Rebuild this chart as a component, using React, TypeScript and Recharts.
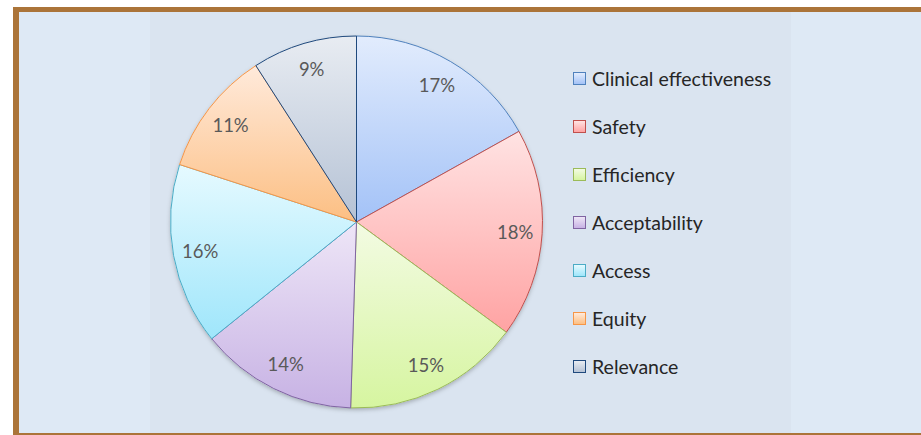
import React from "react";
import { PieChart, Pie, Cell, Legend } from "recharts";

// ---------------------------------------------------------------------------
// Data
// ---------------------------------------------------------------------------
const categories = [
  "Clinical effectiveness",
  "Safety",
  "Efficiency",
  "Acceptability",
  "Access",
  "Equity",
  "Relevance",
];
// slice sizes (%), and the printed labels
const shares = [16.9, 18.2, 15.4, 13.7, 15.8, 10.9, 9.1];
const labels = ["17%", "18%", "15%", "14%", "16%", "11%", "9%"];

// gradient top / bottom, and outline per slice
const gradTop = ["#e2ecfd", "#ffe3e3", "#f3fbe3", "#eee6f7", "#e6faff", "#ffeadb", "#e8ecf2"];
const gradBottom = ["#a3c2f7", "#ffa3a3", "#d6f5a0", "#c7b2e4", "#9fe6fb", "#fcbf83", "#b5c2d5"];
const outline = ["#4f81bd", "#c0504d", "#9bbb59", "#8064a2", "#4bacc6", "#f79646", "#1f497d"];

const pieData = categories.map((name, i) => ({ name, value: shares[i], label: labels[i] }));

const RADIAN = Math.PI / 180;
const LABEL_FONT = "Lato, 'Open Sans', sans-serif";

// ---------------------------------------------------------------------------
// Slice labels
// ---------------------------------------------------------------------------
function SliceLabel(props: any) {
  const { cx, cy, midAngle, outerRadius, index } = props;
  const r = outerRadius - 27;
  const x = cx + r * Math.cos(-midAngle * RADIAN);
  const y = cy + r * Math.sin(-midAngle * RADIAN);
  return (
    <text
      x={x}
      y={y}
      fill="#595959"
      fontSize={18.5}
      fontFamily={LABEL_FONT}
      textAnchor="middle"
      dominantBaseline="central"
    >
      {labels[index]}
    </text>
  );
}

// ---------------------------------------------------------------------------
// Legend
// ---------------------------------------------------------------------------
function LegendBox() {
  return (
    <div style={{ position: "relative", width: 240, height: 340 }}>
      {categories.map((name, i) => (
        <div
          key={name}
          style={{
            position: "absolute",
            left: 0,
            top: i * 48.1,
            height: 20,
            display: "flex",
            alignItems: "center",
            fontFamily: LABEL_FONT,
            fontSize: 19.5,
            color: "#262626",
            whiteSpace: "nowrap",
          }}
        >
          <span
            style={{
              width: 11,
              height: 11,
              display: "inline-block",
              border: `1px solid ${outline[i]}`,
              background: `linear-gradient(${gradTop[i]}, ${gradBottom[i]})`,
              marginRight: 6,
            }}
          />
          {name}
        </div>
      ))}
    </div>
  );
}

// ---------------------------------------------------------------------------
// Component
// ---------------------------------------------------------------------------
export default function App() {
  return (
    <div style={{ position: "absolute", left: 0, top: 0, width: 921, height: 435, background: "#ffffff", overflow: "hidden" }}>
      {/* frame */}
      <div style={{ position: "absolute", left: 13, top: 7, width: 908, height: 428, background: "#ab7439" }} />
      <div style={{ position: "absolute", left: 19, top: 12, width: 902, height: 421, background: "#dee9f5" }} />
      <div style={{ position: "absolute", left: 150, top: 12, width: 641, height: 421, background: "#dae4f0" }} />

      <div style={{ position: "absolute", left: 0, top: 0 }}>
        <PieChart width={921} height={435} margin={{ top: 0, right: 0, bottom: 0, left: 0 }}>
          <defs>
            {gradTop.map((c, i) => (
              <linearGradient key={i} id={`slice${i}`} x1="0" y1="0" x2="0" y2="1">
                <stop offset="0%" stopColor={c} />
                <stop offset="100%" stopColor={gradBottom[i]} />
              </linearGradient>
            ))}
            <filter id="pieShadow" x="-10%" y="-10%" width="120%" height="120%">
              <feDropShadow dx="0" dy="2" stdDeviation="2" floodColor="#000" floodOpacity="0.25" />
            </filter>
          </defs>
          <circle cx={356.5} cy={222} r={186} fill="#dae4f0" filter="url(#pieShadow)" />
          <Pie
            data={pieData}
            dataKey="value"
            nameKey="name"
            cx={356.5}
            cy={222}
            outerRadius={186}
            startAngle={90}
            endAngle={-270}
            label={SliceLabel}
            labelLine={false}
            isAnimationActive={false}
          >
            {pieData.map((d, i) => (
              <Cell key={d.name} fill={`url(#slice${i})`} stroke={outline[i]} strokeWidth={1} />
            ))}
          </Pie>
          <Legend
            layout="vertical"
            content={() => <LegendBox />}
            wrapperStyle={{ position: "absolute", left: 573, top: 68, width: 240 }}
          />
        </PieChart>
      </div>
    </div>
  );
}
